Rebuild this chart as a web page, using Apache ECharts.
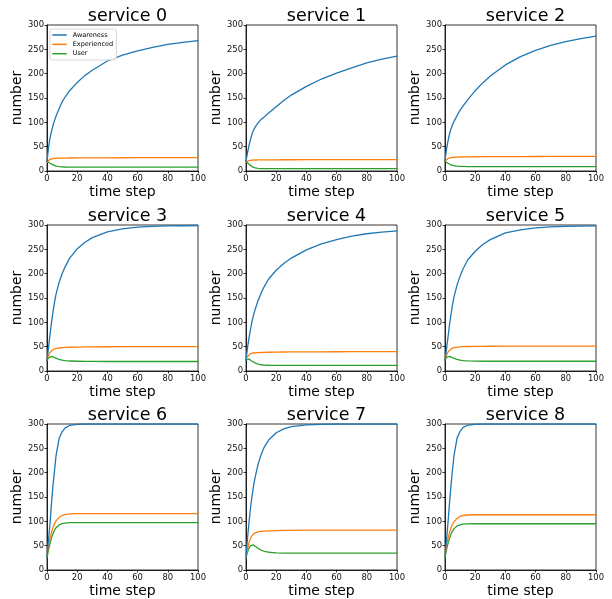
<!DOCTYPE html>
<html>
<head>
<meta charset="utf-8">
<script src="https://cdn.jsdelivr.net/npm/echarts@6/dist/echarts.min.js"></script>
<style>
  html, body { margin: 0; padding: 0; background: #fff; }
  #chart { width: 612px; height: 599px; }
</style>
</head>
<body>
<div id="chart"></div>
<script>
var timeSteps = [0, 1, 2, 3, 4, 5, 6, 8, 10, 12, 15, 20, 25, 30, 40, 50, 60, 70, 80, 90, 100];

var serviceNames = ['service 0', 'service 1', 'service 2', 'service 3', 'service 4',
  'service 5', 'service 6', 'service 7', 'service 8'];
var seriesNames = ['Awareness', 'Experienced', 'User'];

// Awareness
var awareness0 = [20, 48, 68, 82, 94, 104, 113, 128, 142, 152, 165, 182, 196, 207, 226, 238, 247, 254, 260, 264.5, 268];
var awareness1 = [20, 38, 52, 65, 76, 84, 90, 99, 106, 111, 119, 132, 145, 156, 174, 189, 201, 212, 222, 230, 236];
var awareness2 = [20, 45, 62, 76, 87, 95, 102, 114, 125, 134, 146, 165, 181, 195, 218, 235, 248, 258, 266, 272, 277];
var awareness3 = [22, 48, 75, 100, 122, 142, 158, 182, 200, 214, 232, 251, 264, 274, 286, 292, 295.5, 297, 298, 298.5, 299];
var awareness4 = [22, 48, 68, 86, 102, 115, 126, 145, 160, 173, 189, 207, 221, 232, 249, 261, 270, 277, 282, 285.5, 288];
var awareness5 = [22, 45, 70, 95, 117, 137, 153, 177, 195, 210, 228, 246, 260, 270, 284, 290, 294, 296, 297, 297.5, 298];
var awareness6 = [28, 62, 95, 138, 175, 205, 235, 270, 284, 292, 297, 299.5, 300, 300, 300, 300, 300, 300, 300, 300, 300];
var awareness7 = [28, 65, 98, 128, 152, 173, 190, 217, 237, 252, 267, 282, 290, 294.5, 298.3, 299.5, 300, 300, 300, 300, 300];
var awareness8 = [28, 62, 98, 138, 175, 207, 236, 271, 285, 293, 297.5, 299.5, 300, 300, 300, 300, 300, 300, 300, 300, 300];

// Experienced
var experienced0 = [18, 22, 24, 25, 25.5, 26, 26.2, 26.4, 26.5, 26.6, 26.7, 26.8, 26.9, 27, 27.1, 27.2, 27.3, 27.4, 27.4, 27.5, 27.5];
var experienced1 = [18, 20.5, 21.5, 22, 22.3, 22.5, 22.6, 22.7, 22.8, 22.9, 23, 23, 23.1, 23.1, 23.2, 23.2, 23.3, 23.3, 23.3, 23.3, 23.3];
var experienced2 = [20, 24, 26, 27, 27.5, 28, 28.3, 28.6, 28.8, 29, 29.1, 29.3, 29.4, 29.5, 29.6, 29.7, 29.8, 29.9, 30, 30, 30];
var experienced3 = [25, 32, 38, 42, 44, 45.5, 46.3, 47.3, 48, 48.4, 48.8, 49.2, 49.5, 49.7, 49.8, 49.9, 50, 50, 50, 50, 50];
var experienced4 = [24, 30, 33.5, 35.5, 36.5, 37, 37.3, 37.7, 38, 38.2, 38.5, 38.8, 39, 39.2, 39.4, 39.5, 39.6, 39.7, 39.8, 39.8, 39.8];
var experienced5 = [25, 33, 39, 43, 45.5, 47, 48, 49, 49.6, 50, 50.3, 50.6, 50.8, 50.9, 51, 51, 51, 51, 51, 51, 51];
var experienced6 = [30, 50, 65, 78, 88, 95, 101, 108, 112, 114, 115.3, 115.8, 116, 116, 116, 116, 116, 116, 116, 116, 116];
var experienced7 = [28, 44, 56, 65, 71, 74.5, 76.5, 78.5, 79.5, 80, 80.5, 81, 81.3, 81.5, 81.8, 82, 82, 82, 82, 82, 82];
var experienced8 = [30, 50, 65, 77, 87, 94, 99, 106, 110, 112, 113, 113.5, 113.5, 113.5, 113.5, 113.5, 113.5, 113.5, 113.5, 113.5, 113.5];

// User
var user0 = [20, 18, 16, 14, 12.5, 11, 10, 9, 8.5, 8.2, 8, 8, 8, 8, 8, 8, 8, 8, 8, 8, 8];
var user1 = [20, 17, 14, 11, 9, 7.5, 6.5, 5.5, 5, 4.8, 4.7, 4.7, 4.7, 4.7, 4.7, 4.7, 4.7, 4.7, 4.7, 4.7, 4.7];
var user2 = [20, 18, 16, 14, 12.5, 11.5, 10.8, 10, 9.5, 9.3, 9.1, 9, 9, 9, 9, 9, 9, 9, 9, 9, 9];
var user3 = [22, 27, 29.5, 30, 29, 27.5, 26, 24, 22.5, 21.5, 20.5, 20, 19.8, 19.6, 19.5, 19.5, 19.5, 19.5, 19.5, 19.5, 19.5];
var user4 = [23, 25, 24.5, 22.5, 20, 18, 16.5, 14, 12.8, 12.2, 11.8, 11.6, 11.5, 11.5, 11.5, 11.5, 11.5, 11.5, 11.5, 11.5, 11.5];
var user5 = [22, 28, 30, 30, 29, 27.5, 26, 24, 22.5, 21.5, 20.7, 20.2, 20, 20, 20, 20, 20, 20, 20, 20, 20];
var user6 = [25, 42, 55, 66, 75, 82, 87, 92.5, 95.3, 96.5, 97.2, 97.5, 97.5, 97.5, 97.5, 97.5, 97.5, 97.5, 97.5, 97.5, 97.5];
var user7 = [25, 37, 45, 50, 52, 51.5, 49, 44.5, 41, 38.5, 36.5, 35.2, 34.8, 34.6, 34.5, 34.5, 34.5, 34.5, 34.5, 34.5, 34.5];
var user8 = [25, 42, 55, 65, 74, 80, 85, 90.5, 93, 94.2, 94.8, 95, 95, 95, 95, 95, 95, 95, 95, 95, 95];

var awarenessList = [awareness0, awareness1, awareness2, awareness3, awareness4, awareness5, awareness6, awareness7, awareness8];
var experiencedList = [experienced0, experienced1, experienced2, experienced3, experienced4, experienced5, experienced6, experienced7, experienced8];
var userList = [user0, user1, user2, user3, user4, user5, user6, user7, user8];

var colors = ['#1f77b4', '#ff7f0e', '#2ca02c'];
var font = 'DejaVu Sans';

// panel placement
var lefts = [47, 246, 445];
var tops = [25, 225, 424];
var W = 151, H = 146;

function pairs(ys) {
  return timeSteps.map(function (t, i) { return [t, ys[i]]; });
}

var grids = [], xAxes = [], yAxes = [], titles = [], series = [];

for (var k = 0; k < 9; k++) {
  var row = Math.floor(k / 3), col = k % 3;
  grids.push({
    left: lefts[col], top: tops[row], width: W, height: H,
    show: true, borderColor: '#000', borderWidth: 0.8, backgroundColor: 'transparent'
  });
  titles.push({
    text: serviceNames[k],
    left: lefts[col] + W / 2, top: tops[row] - 23, textAlign: 'center',
    textStyle: { fontFamily: font, fontSize: 17.5, fontWeight: 'normal', color: '#000' }
  });
  xAxes.push({
    gridIndex: k, type: 'value', min: 0, max: 100, interval: 20,
    name: 'time step', nameLocation: 'middle', nameGap: 14,
    nameTextStyle: { fontFamily: font, fontSize: 14, color: '#000' },
    axisLine: { show: true, onZero: false, lineStyle: { color: '#000', width: 0.8 } },
    axisTick: { show: true, inside: false, length: 2.5, lineStyle: { color: '#000', width: 0.8 } },
    axisLabel: { fontFamily: font, fontSize: 8.4, color: '#111', margin: 3.5 },
    splitLine: { show: false }
  });
  yAxes.push({
    gridIndex: k, type: 'value', min: 0, max: 300, interval: 50,
    name: 'number', nameLocation: 'middle', nameGap: 23,
    nameTextStyle: { fontFamily: font, fontSize: 14, color: '#000' },
    axisLine: { show: true, onZero: false, lineStyle: { color: '#000', width: 0.8 } },
    axisTick: { show: true, inside: false, length: 2.5, lineStyle: { color: '#000', width: 0.8 } },
    axisLabel: { fontFamily: font, fontSize: 8.4, color: '#111', margin: 3 },
    splitLine: { show: false }
  });
  var groups = [awarenessList[k], experiencedList[k], userList[k]];
  for (var s = 0; s < 3; s++) {
    series.push({
      type: 'line', name: seriesNames[s],
      xAxisIndex: k, yAxisIndex: k,
      data: pairs(groups[s]),
      symbol: 'none', showSymbol: false,
      smooth: false,
      lineStyle: { color: colors[s], width: 1.3, join: 'round', cap: 'round' },
      itemStyle: { color: colors[s] },
      z: 3 - s
    });
  }
}

var chart = echarts.init(document.getElementById('chart'), null, { renderer: 'canvas' });
chart.setOption({
  animation: false,
  backgroundColor: '#fff',
  title: titles,
  legend: {
    data: seriesNames,
    orient: 'vertical',
    left: 50, top: 29,
    padding: [2.5, 3.3, 2.8, 2.3],
    itemWidth: 14.4, itemHeight: 1.5, itemGap: 2.35,
    icon: 'rect',
    backgroundColor: 'rgba(255,255,255,0.8)',
    borderColor: '#cccccc', borderWidth: 0.8, borderRadius: 2,
    textStyle: { fontFamily: font, fontSize: 6.5, lineHeight: 7, color: '#000', padding: [0, 0, 0, 1] }
  },
  grid: grids,
  xAxis: xAxes,
  yAxis: yAxes,
  series: series
});
</script>
</body>
</html>
